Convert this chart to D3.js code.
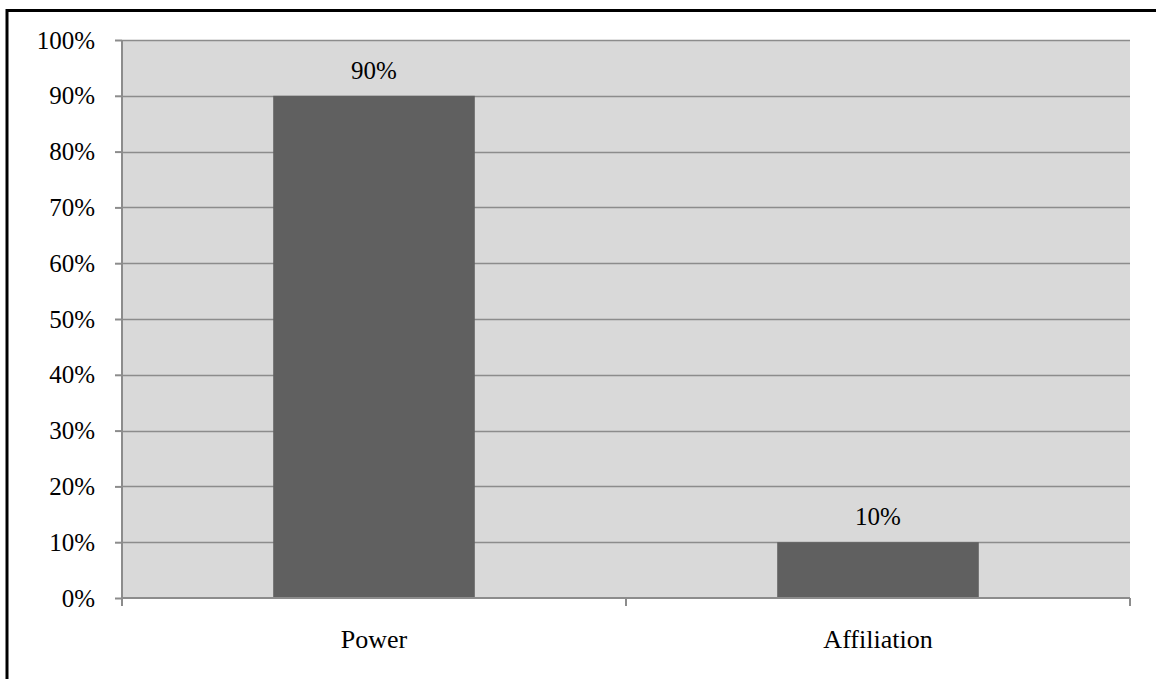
<!DOCTYPE html>
<html>
<head>
<meta charset="utf-8">
<script src="https://cdn.jsdelivr.net/npm/d3@7/dist/d3.min.js"></script>
<style>
  html, body { margin: 0; padding: 0; background: #ffffff; }
  svg { display: block; }
  text { font-family: "Liberation Serif", "Times New Roman", serif; fill: #000; }
</style>
</head>
<body>
<svg id="chart" width="1156" height="679"></svg>
<script>
// Motive categories and their share of responses
const categories = ["Power", "Affiliation"];
const shares = [0.90, 0.10];
const tickValues = [0, 0.1, 0.2, 0.3, 0.4, 0.5, 0.6, 0.7, 0.8, 0.9, 1.0];

const svg = d3.select("#chart");
const W = 1156, H = 679;
const plot = { left: 122, right: 1130, top: 40, bottom: 598 };

// Frame around the whole figure
svg.append("rect")
  .attr("x", 7).attr("y", 10.5)
  .attr("width", W + 10).attr("height", H + 10)
  .attr("fill", "none").attr("stroke", "#000").attr("stroke-width", 3);

const x = d3.scaleBand()
  .domain(categories)
  .range([plot.left, plot.right])
  .paddingInner(0.6).paddingOuter(0.3);

const xOuter = d3.scaleBand()
  .domain(categories)
  .range([plot.left, plot.right]);

const y = d3.scaleLinear().domain([0, 1]).range([plot.bottom, plot.top]);

// Plot background
svg.append("rect")
  .attr("x", plot.left).attr("y", plot.top)
  .attr("width", plot.right - plot.left).attr("height", plot.bottom - plot.top)
  .attr("fill", "#d9d9d9");

// Horizontal gridlines
svg.append("g")
  .selectAll("line")
  .data(tickValues.filter(d => d > 0))
  .join("line")
  .attr("x1", plot.left).attr("x2", plot.right)
  .attr("y1", d => Math.round(y(d)) + 0.5).attr("y2", d => Math.round(y(d)) + 0.5)
  .attr("stroke", "#8c8c8c").attr("stroke-width", 1.5);

// Bars
svg.append("g")
  .selectAll("rect")
  .data(categories)
  .join("rect")
  .attr("x", d => x(d))
  .attr("y", (d, i) => y(shares[i]))
  .attr("width", x.bandwidth())
  .attr("height", (d, i) => y(0) - y(shares[i]))
  .attr("fill", "#606060");

// Value labels
svg.append("g")
  .selectAll("text")
  .data(categories)
  .join("text")
  .attr("x", d => x(d) + x.bandwidth() / 2)
  .attr("y", (d, i) => y(shares[i]) - 17)
  .attr("text-anchor", "middle")
  .attr("font-size", 25)
  .text((d, i) => d3.format(".0%")(shares[i]));

// Y axis
const yAxis = d3.axisLeft(y)
  .tickValues(tickValues)
  .tickFormat(d3.format(".0%"))
  .tickSize(7)
  .tickPadding(20);
const gy = svg.append("g").attr("transform", `translate(${plot.left},0)`).call(yAxis);
gy.select(".domain").attr("stroke", "#8c8c8c").attr("stroke-width", 2).attr("d", `M0,${plot.top}V${plot.bottom}`);
gy.selectAll(".tick line").attr("stroke", "#8c8c8c").attr("stroke-width", 2);
gy.selectAll(".tick text")
  .attr("font-size", 25)
  .attr("font-family", "Liberation Serif, Times New Roman, serif")
  .attr("fill", "#000");

// X axis with ticks at category boundaries
const gx = svg.append("g").attr("transform", `translate(0,${plot.bottom})`);
gx.append("line")
  .attr("x1", plot.left).attr("x2", plot.right)
  .attr("y1", 0).attr("y2", 0)
  .attr("stroke", "#8c8c8c").attr("stroke-width", 2);
const boundaries = categories.map(c => xOuter(c)).concat([plot.right]);
gx.selectAll("line.tk")
  .data(boundaries)
  .join("line")
  .attr("class", "tk")
  .attr("x1", d => d).attr("x2", d => d)
  .attr("y1", 0).attr("y2", 8)
  .attr("stroke", "#8c8c8c").attr("stroke-width", 2);
gx.selectAll("text")
  .data(categories)
  .join("text")
  .attr("x", d => xOuter(d) + xOuter.bandwidth() / 2)
  .attr("y", 50)
  .attr("text-anchor", "middle")
  .attr("font-size", 26)
  .text(d => d);
</script>
</body>
</html>
